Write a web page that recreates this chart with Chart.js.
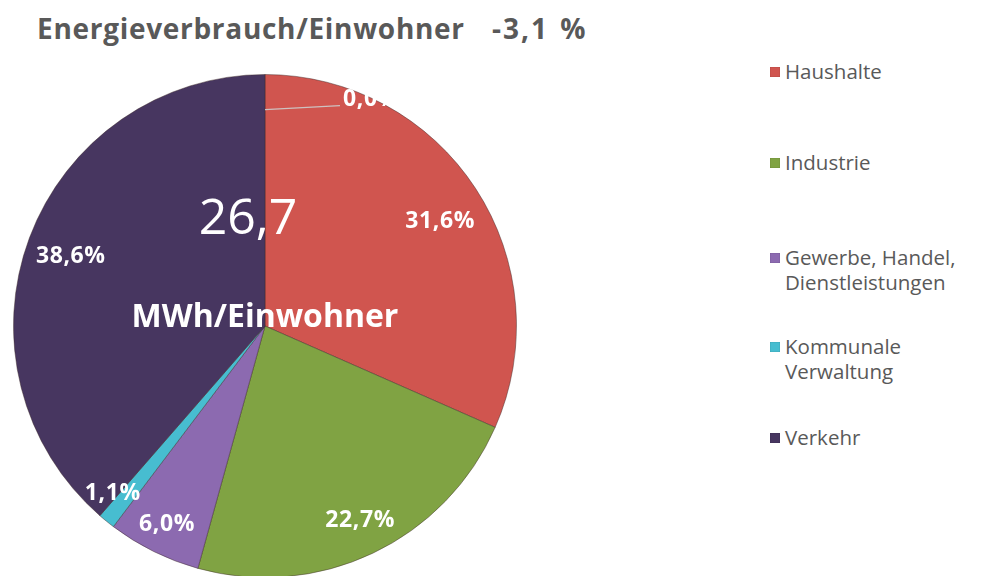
<!DOCTYPE html>
<html>
<head>
<meta charset="utf-8">
<script src="https://cdn.jsdelivr.net/npm/chart.js@4"></script>
<style>
  html, body { margin: 0; padding: 0; width: 992px; height: 576px; overflow: hidden; background: #fff; }
  #wrap { position: relative; width: 992px; height: 576px; overflow: hidden; font-family: "Open Sans", "DejaVu Sans", sans-serif; }
  #chartBox { position: absolute; left: 5px; top: 66px; width: 520px; height: 520px; }
  .title { position: absolute; top: 9px; font-weight: bold; font-size: 28px; color: #595959; white-space: nowrap; letter-spacing: 0.7px; }
  .center { position: absolute; color: #fff; white-space: nowrap; transform: translate(-50%, -50%); }
  #legend { position: absolute; left: 770px; top: 0; }
  .li { position: absolute; left: 0; white-space: nowrap; font-size: 20.5px; color: #595959; line-height: 25px; }
  .sw { position: absolute; left: 0; top: 8px; width: 10px; height: 10px; box-shadow: inset 0 0 1px rgba(0,0,0,0.5); }
  .lt { position: absolute; left: 15px; top: 0; }
</style>
</head>
<body>
<div id="wrap">
  <div class="title" style="left:37px">Energieverbrauch/Einwohner</div>
  <div class="title" style="left:492px; letter-spacing:2px; word-spacing:2px;">-3,1 %</div>
  <div id="chartBox"><canvas id="c" width="520" height="520"></canvas></div>
  <div class="center" style="left:248px; top:215px; font-size:50px; font-weight:normal;">26,7</div>
  <div class="center" style="left:265px; top:314px; font-size:32px; font-weight:bold;">MWh/Einwohner</div>
  <div id="legend"></div>
</div>
<script>
// ---- data ----
const categories = ["", "Haushalte", "Industrie", "Gewerbe, Handel,\nDienstleistungen", "Kommunale\nVerwaltung", "Verkehr"];
const shares = [0.0, 31.6, 22.7, 6.0, 1.1, 38.6];
const sliceColors = ["#D0554F", "#D0554F", "#80A343", "#8C6AB0", "#47BDD0", "#473660"];

// ---- label / legend layout (styling only) ----
const labelRadiusFrac = [0.86, 0.81, 0.86, 0.88, 0.90, 0.82];
const labelAngleShiftDeg = [0, 2.4, -0.7, 0, 3.2, -0.9];
const legendTops = [58.5, 150, 245, 333.5, 424.5];

function fmt(v) { return v.toFixed(1).replace('.', ',') + '%'; }

const labelPlugin = {
  id: 'pctLabels',
  afterDatasetsDraw(chart) {
    const ctx = chart.ctx;
    const meta = chart.getDatasetMeta(0);
    ctx.save();
    ctx.font = 'bold 23px "Open Sans", "DejaVu Sans", sans-serif';
    try { ctx.letterSpacing = '0.6px'; } catch (e) {}
    ctx.fillStyle = '#fff';
    ctx.textBaseline = 'middle';
    meta.data.forEach((arc, i) => {
      const p = arc.getProps(['x', 'y', 'startAngle', 'endAngle', 'outerRadius'], true);
      const mid = (p.startAngle + p.endAngle) / 2 + labelAngleShiftDeg[i] * Math.PI / 180;
      const txt = fmt(shares[i]);
      if (shares[i] === 0) {
        const r0 = p.outerRadius * labelRadiusFrac[i];
        const x0 = p.x + Math.cos(mid) * r0;
        const y0 = p.y + Math.sin(mid) * r0;
        ctx.strokeStyle = 'rgba(205,205,205,0.9)';
        ctx.lineWidth = 1.2;
        ctx.beginPath();
        ctx.moveTo(x0, y0);
        ctx.lineTo(x0 + 75, y0 - 4);
        ctx.stroke();
        ctx.textAlign = 'left';
        ctx.fillText(txt, x0 + 78, y0 - 10);
      } else {
        const r = p.outerRadius * labelRadiusFrac[i];
        ctx.textAlign = 'center';
        ctx.fillText(txt, p.x + Math.cos(mid) * r, p.y + Math.sin(mid) * r);
      }
    });
    ctx.restore();
  }
};

const chart = new Chart(document.getElementById('c'), {
  type: 'pie',
  data: {
    labels: categories,
    datasets: [{
      data: shares,
      backgroundColor: sliceColors,
      borderColor: 'rgba(60,40,40,0.45)',
      borderWidth: 1
    }]
  },
  options: {
    responsive: false,
    animation: false,
    layout: { padding: 8 },
    plugins: {
      legend: { display: false },
      tooltip: { enabled: false },
      title: { display: false }
    }
  },
  plugins: [labelPlugin]
});

// HTML legend built from the chart data (skip the unnamed zero category)
const legend = document.getElementById('legend');
let k = 0;
categories.forEach((name, i) => {
  if (!name) return;
  const item = document.createElement('div');
  item.className = 'li';
  item.style.top = legendTops[k++] + 'px';
  const sw = document.createElement('div');
  sw.className = 'sw';
  sw.style.background = sliceColors[i];
  const t = document.createElement('div');
  t.className = 'lt';
  t.innerHTML = name.split('\n').join('<br>');
  item.appendChild(sw);
  item.appendChild(t);
  legend.appendChild(item);
});
</script>
</body>
</html>
